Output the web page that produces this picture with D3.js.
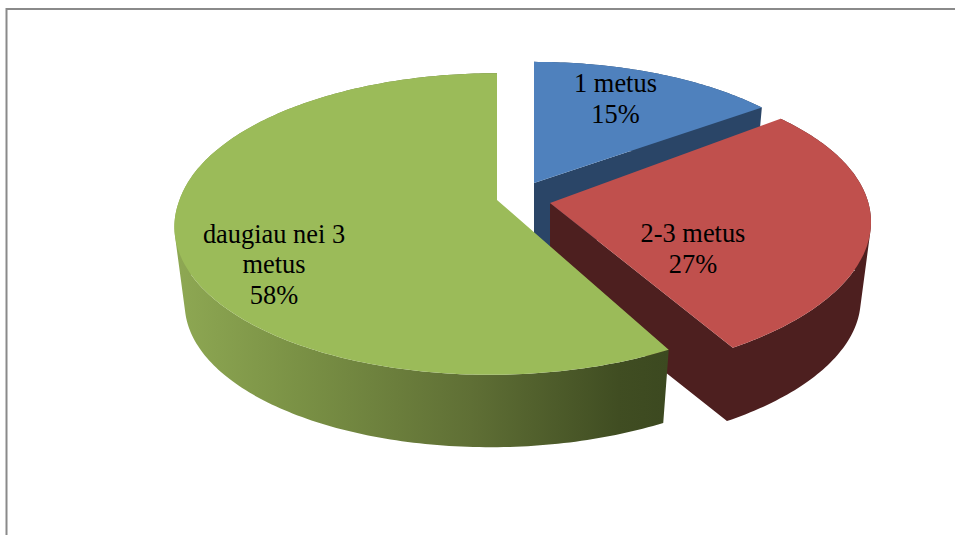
<!DOCTYPE html>
<html>
<head>
<meta charset="utf-8">
<style>
  html, body { margin: 0; padding: 0; background: #fff; }
  svg { display: block; }
  text { font-family: "Liberation Serif", serif; font-size: 26.4px; fill: #000; text-anchor: middle; }
</style>
<script src="https://cdn.jsdelivr.net/npm/d3@7"></script>
</head>
<body>
<svg id="chart" width="955" height="535"></svg>
<script>
// Share of respondents by duration
const categories = ["1 metus", "2-3 metus", "daugiau nei 3 metus"];
const values = [15, 27, 58];
const labelLines = [["1 metus", "15%"], ["2-3 metus", "27%"], ["daugiau nei 3", "metus", "58%"]];
const topColors = ["#4f81bd", "#c0504d", "#9bbb59"];
const wallColors = ["#2a4567", "#4d1f1f", "url(#greenWall)"];

// Where each exploded wedge sits on the page
const apexes = [[534, 183], [550, 203], [497, 200]];
const wedgeScale = [[0.97, 0.955], [0.995, 0.995], [1, 1]];
// Perspective lean of each wedge: x per y above the apex, x per y below it, y per x
const wedgeLean = [[0, 0, 0], [0.04, 0.04, -0.024], [0, -0.04, 0]];
const labelAnchors = [[615.5, 92], [693, 242], [274, 242.5]];

const tilt = 0.159;          // perspective strength of the tilted disc
const radiusX = 317.5, radiusY = 147;
const dropY = 78, dropScale = 0.968;   // lower face of the disc relative to the upper one

const svg = d3.select("#chart");

const gradient = svg.append("defs").append("linearGradient")
  .attr("id", "greenWall").attr("gradientUnits", "userSpaceOnUse")
  .attr("x1", 176).attr("x2", 668).attr("y1", 0).attr("y2", 0);
[[0, "#8ea853"], [0.25, "#7a9145"], [0.6, "#5f6f35"], [0.9, "#404d22"], [1, "#3c4920"]]
  .forEach(([o, c]) => gradient.append("stop").attr("offset", o).attr("stop-color", c));

// Frame around the plot area
svg.append("path").attr("d", "M6.5,535V9H955")
  .attr("fill", "none").attr("stroke", "#8a8a8a").attr("stroke-width", 2);

const wedges = d3.pie().sort(null).value(d => d)(values);
const xScale = d3.scaleLinear().domain([0, 1]).range([0, radiusX]);
const yScale = d3.scaleLinear().domain([0, 1]).range([0, radiusY]);
const line = d3.line();

// Project a disc point (angle clockwise from the top, radius 0-1) onto the page
function project(i, angle, r, lower) {
  const u = r * Math.sin(angle), v = -r * Math.cos(angle);
  const w = 1 - tilt * v;
  const depth = lower ? dropScale : 1;
  const dx = xScale(u / w), dy = yScale(v / w);
  const [leanUp, leanDown, leanY] = wedgeLean[i];
  return [
    apexes[i][0] + wedgeScale[i][0] * depth * (dx + dy * (dy < 0 ? leanUp : leanDown)),
    apexes[i][1] + (lower ? dropY : 0) + wedgeScale[i][1] * depth * (dy + dx * leanY)
  ];
}

function rim(i, a0, a1, lower) {
  const n = Math.max(2, Math.ceil(Math.abs(a1 - a0) * 60));
  return d3.range(n + 1).map(k => project(i, a0 + (a1 - a0) * k / n, 1, lower));
}

// Outer wall as a run of quads, so the fold at the silhouette stays filled
function wallPath(i, a0, a1) {
  const upper = rim(i, a0, a1, false), lower = rim(i, a0, a1, true);
  return d3.range(upper.length - 1).map(k =>
    line(d3.polygonHull([upper[k], upper[k + 1], lower[k + 1], lower[k]])) + "Z"
  ).join("");
}

// Cut face at the trailing edge of a wedge
function facePath(i, angle) {
  return line(d3.polygonHull([
    project(i, angle, 0, false),
    project(i, angle, 1, false),
    project(i, angle, 1, true),
    project(i, angle, 0, true)
  ])) + "Z";
}

// Draw back to front: blue, red, green
wedges.forEach((w, i) => {
  const g = svg.append("g").attr("class", "wedge").datum(categories[i]);
  const sides = wallPath(i, w.startAngle, w.endAngle) + (i < 2 ? facePath(i, w.endAngle) : "");
  g.append("path").attr("d", sides).attr("fill", wallColors[i]);
  const top = [project(i, 0, 0, false)].concat(rim(i, w.startAngle, w.endAngle, false));
  g.append("path").attr("d", line(top) + "Z").attr("fill", topColors[i]);
});

// Slice labels
labelLines.forEach((lines, i) => {
  const t = svg.append("text").attr("x", labelAnchors[i][0]).attr("y", labelAnchors[i][1]);
  lines.forEach((s, k) => {
    t.append("tspan").attr("x", labelAnchors[i][0]).attr("dy", k ? 30.8 : 0).text(s);
  });
});
</script>
</body>
</html>
